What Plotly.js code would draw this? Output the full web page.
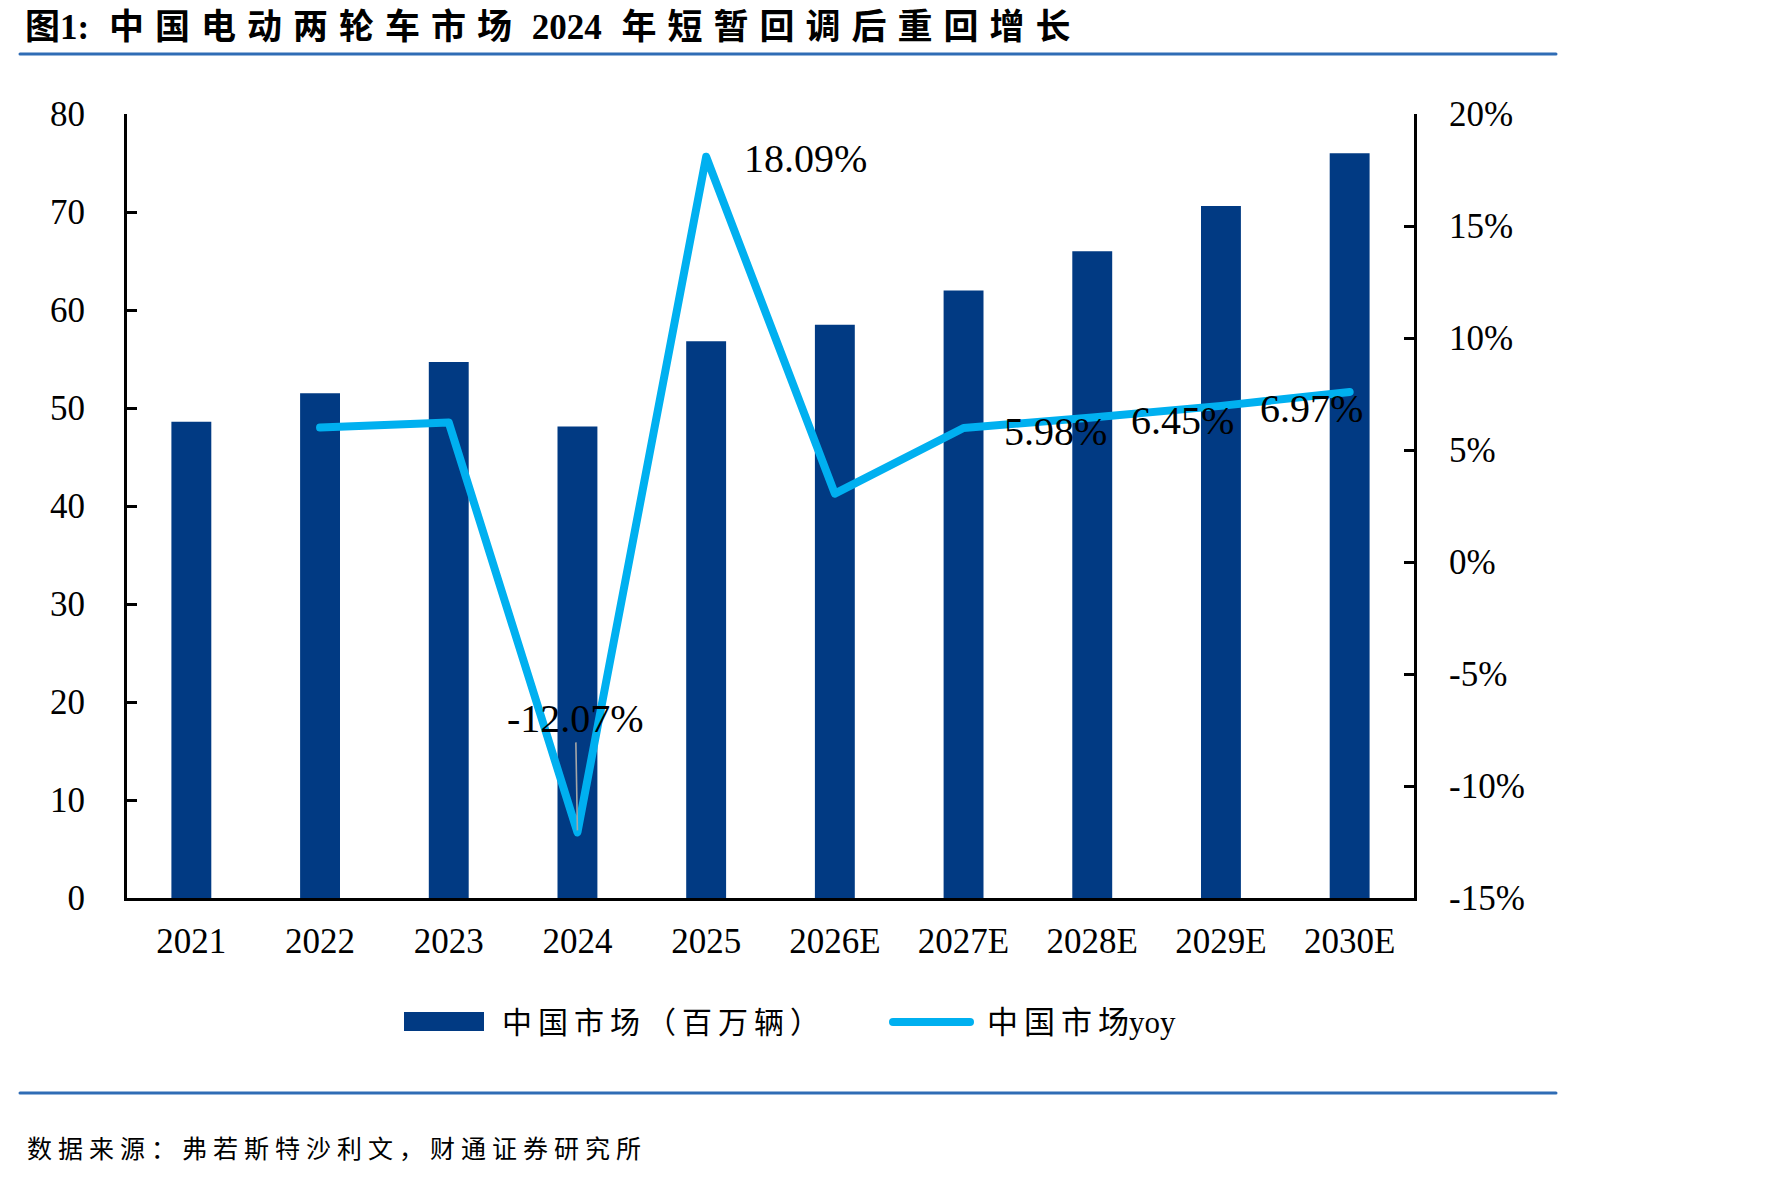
<!DOCTYPE html>
<html>
<head>
<meta charset="utf-8">
<script src="https://cdn.plot.ly/plotly-3.0.1.min.js"></script>
<style>
  html, body { margin: 0; padding: 0; background: #ffffff; }
  #chart { width: 1771px; height: 1179px; }
</style>
</head>
<body>
<div id="chart"></div>
<script>
// ---------------- DATA ----------------
const categories = ['2021', '2022', '2023', '2024', '2025', '2026E', '2027E', '2028E', '2029E', '2030E'];
const marketVolume = [48.6, 51.5, 54.7, 48.1, 56.8, 58.5, 62.0, 66.0, 70.6, 76.0]; // 中国市场（百万辆）
const yoyCategories = ['2022', '2023', '2024', '2025', '2026E', '2027E', '2028E', '2029E', '2030E'];
const yoyGrowth = [0.0600, 0.0623, -0.1207, 0.1809, 0.0305, 0.0598, 0.0645, 0.0697, 0.0759]; // 中国市场yoy
const labelCategories = ['2024', '2025', '2027E', '2028E', '2029E'];
const labelValues = [-0.1207, 0.1809, 0.0598, 0.0645, 0.0697];
const labelTexts = ['-12.07%', '18.09%', '5.98%', '6.45%', '6.97%'];
const leftTickVals = [0, 10, 20, 30, 40, 50, 60, 70, 80];
const rightTickVals = [-0.15, -0.10, -0.05, 0, 0.05, 0.10, 0.15, 0.20];
const rightTickText = ['-15%', '-10%', '-5%', '0%', '5%', '10%', '15%', '20%'];
const seriesNames = ['中国市场（百万辆）', '中国市场yoy'];
const titleText = '图1: 中国电动两轮车市场 2024 年短暂回调后重回增长';
const sourceText = '数据来源：弗若斯特沙利文，财通证券研究所';

// ---------------- LAYOUT HELPERS ----------------
const W = 1771, H = 1179;
const PL = 127, PR = 1414, PT = 114, PB = 898;
const pw = PR - PL, ph = PB - PT;
const px = x => (x - PL) / pw;
const py = y => (PB - y) / ph;

const SERIF = '"Liberation Serif", "Times New Roman", "Noto Sans CJK SC", serif';
const BAR_COLOR = '#013A83';
const LINE_COLOR = '#00B0F0';
const RULE_COLOR = '#2F6CB5';

const traces = [
  {
    type: 'bar',
    name: seriesNames[0],
    x: categories,
    y: marketVolume,
    marker: { color: BAR_COLOR, line: { width: 0 } },
    yaxis: 'y',
    hoverinfo: 'skip'
  },
  {
    type: 'scatter',
    mode: 'lines',
    name: seriesNames[1],
    x: yoyCategories,
    y: yoyGrowth,
    yaxis: 'y2',
    line: { color: LINE_COLOR, width: 8, shape: 'linear' },
    hoverinfo: 'skip'
  }
];

// data label annotations (placed at the category index of their point)
const labelStyle = {
  '-12.07%': { xanchor: 'center', yanchor: 'middle', showarrow: true, ax: -2, ay: -114 },
  '18.09%': { xanchor: 'left', yanchor: 'middle', xshift: 36, yshift: -2 },
  '5.98%': { xanchor: 'left', yanchor: 'middle', xshift: 38, yshift: -3 },
  '6.45%': { xanchor: 'left', yanchor: 'middle', xshift: 37, yshift: -3 },
  '6.97%': { xanchor: 'left', yanchor: 'middle', xshift: 37, yshift: -3 }
};

const annotations = labelTexts.map((t, i) => {
  const s = labelStyle[t];
  const a = {
    xref: 'x', yref: 'y2',
    x: categories.indexOf(labelCategories[i]), y: labelValues[i],
    text: t,
    font: { family: SERIF, size: 40, color: '#000000' },
    showarrow: !!s.showarrow,
    xanchor: s.xanchor, yanchor: s.yanchor
  };
  if (s.showarrow) {
    a.ax = s.ax; a.ay = s.ay;
    a.arrowhead = 0; a.arrowwidth = 1.6; a.arrowcolor = '#A6A6A6';
    a.standoff = 2; a.startstandoff = 0;
  } else {
    a.xshift = s.xshift; a.yshift = s.yshift;
  }
  return a;
});

// custom legend texts
annotations.push({
  xref: 'paper', yref: 'paper', x: px(500), y: py(1022),
  xanchor: 'left', yanchor: 'middle', align: 'left', showarrow: false,
  text: seriesNames[0], font: { family: SERIF, size: 30, color: '#000000' }
});
annotations.push({
  xref: 'paper', yref: 'paper', x: px(985), y: py(1022),
  xanchor: 'left', yanchor: 'middle', align: 'left', showarrow: false,
  text: seriesNames[1], font: { family: SERIF, size: 31, color: '#000000' }
});
// source
annotations.push({
  xref: 'paper', yref: 'paper', x: px(25), y: py(1149),
  xanchor: 'left', yanchor: 'middle', align: 'left', showarrow: false,
  text: sourceText, font: { family: SERIF, size: 25, color: '#000000' }
});

const shapes = [
  // title rule
  { type: 'line', xref: 'paper', yref: 'paper', x0: px(20), x1: px(1556), y0: py(54), y1: py(54),
    line: { color: RULE_COLOR, width: 3 } },
  // bottom rule
  { type: 'line', xref: 'paper', yref: 'paper', x0: px(20), x1: px(1556), y0: py(1093), y1: py(1093),
    line: { color: RULE_COLOR, width: 3 } },
  // legend: bar swatch
  { type: 'rect', xref: 'paper', yref: 'paper', x0: px(404), x1: px(484), y0: py(1031), y1: py(1012),
    fillcolor: BAR_COLOR, line: { width: 0 } },
  // legend: line swatch
  { type: 'line', xref: 'paper', yref: 'paper', x0: px(893), x1: px(970), y0: py(1022), y1: py(1022),
    line: { color: LINE_COLOR, width: 8 } }
];

const axisFont = { family: SERIF, size: 35, color: '#000000' };

const layout = {
  width: W, height: H,
  margin: { l: PL, r: W - PR, t: PT, b: H - PB, pad: 0 },
  paper_bgcolor: '#ffffff',
  plot_bgcolor: '#ffffff',
  showlegend: false,
  bargap: 0.69,
  title: {
    text: '<b>' + titleText + '</b>',
    x: 25 / W, xanchor: 'left', xref: 'container',
    y: 1 - 27 / H, yanchor: 'middle', yref: 'container',
    font: { family: SERIF, size: 35, color: '#000000' }
  },
  xaxis: {
    type: 'category',
    categoryorder: 'array', categoryarray: categories,
    range: [-0.5, categories.length - 0.5],
    autorange: false,
    showline: true, linecolor: '#000000', linewidth: 3,
    ticks: '', showgrid: false, zeroline: false,
    tickfont: axisFont,
    ticklabelstandoff: 10,
    fixedrange: true
  },
  yaxis: {
    range: [0, 80],
    tickvals: leftTickVals,
    showline: true, linecolor: '#000000', linewidth: 3,
    ticks: 'inside', ticklen: 10, tickwidth: 3, tickcolor: '#000000',
    showgrid: false, zeroline: false,
    tickfont: axisFont,
    ticklabelstandoff: 32,
    fixedrange: true
  },
  yaxis2: {
    overlaying: 'y', side: 'right',
    range: [-0.15, 0.20],
    tickvals: rightTickVals, ticktext: rightTickText,
    showline: true, linecolor: '#000000', linewidth: 3,
    ticks: 'inside', ticklen: 10, tickwidth: 3, tickcolor: '#000000',
    showgrid: false, zeroline: false,
    tickfont: axisFont,
    ticklabelstandoff: 25,
    fixedrange: true
  },
  annotations: annotations,
  shapes: shapes
};

// character spacing like the source document: extra space between two CJK
// characters and after a space; none inside Latin runs or between CJK and Latin.
const CJK_RE = /[\u3000-\u9fff\uff00-\uffef]/;
function spaceCJK(el, sp) {
  if (!el) return;
  const walker = document.createTreeWalker(el, NodeFilter.SHOW_TEXT);
  const nodes = [];
  while (walker.nextNode()) nodes.push(walker.currentNode);
  nodes.forEach(n => {
    const chars = Array.from(n.nodeValue);
    if (!chars.length) return;
    const spacingAfter = chars.map((c, i) => {
      const nx = chars[i + 1];
      if (nx === undefined) return 0;
      if (CJK_RE.test(c) && CJK_RE.test(nx)) return sp;
      if (c === ' ') return sp;
      return 0;
    });
    const frag = document.createDocumentFragment();
    let run = '', runSp = null;
    const flush = () => {
      if (!run) return;
      const ts = document.createElementNS('http://www.w3.org/2000/svg', 'tspan');
      ts.textContent = run;
      ts.style.letterSpacing = runSp + 'px';
      ts.setAttribute('xml:space', 'preserve');
      ts.style.whiteSpace = 'pre';
      frag.appendChild(ts);
      run = '';
    };
    chars.forEach((c, i) => {
      if (runSp !== null && spacingAfter[i] !== runSp) flush();
      runSp = spacingAfter[i];
      run += c;
    });
    flush();
    n.parentNode.replaceChild(frag, n);
  });
}

Plotly.newPlot('chart', traces, layout, { displayModeBar: false, staticPlot: true }).then(() => {
  document.querySelectorAll('.scatterlayer path.js-line').forEach(p => {
    p.style.strokeLinejoin = 'round';
    p.style.strokeLinecap = 'round';
  });
  document.querySelectorAll('.shapelayer path').forEach(p => {
    p.style.strokeLinecap = 'round';
  });
  spaceCJK(document.querySelector('.gtitle'), 11);
  document.querySelectorAll('.annotation-text').forEach(el => {
    const s = el.textContent;
    if (s === seriesNames[0] || s === seriesNames[1]) spaceCJK(el, 6);
    if (s === sourceText) spaceCJK(el, 6);
  });
});
</script>
</body>
</html>
